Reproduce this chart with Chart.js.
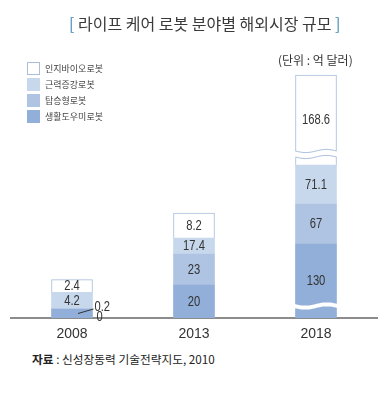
<!DOCTYPE html>
<html><head><meta charset="utf-8">
<script src="https://cdn.jsdelivr.net/npm/chart.js@4.4.1/dist/chart.umd.min.js"></script>
<style>
html,body{margin:0;padding:0;background:#fff;}
#wrap{position:relative;width:387px;height:394px;overflow:hidden;font-family:'Noto Sans CJK KR','Noto Sans',sans-serif;}
#chartBox{position:absolute;left:0;top:0;width:387px;height:340px;}
#title{position:absolute;left:69px;top:11px;font-size:16px;color:#3a3a3a;white-space:nowrap;}
#title .br{color:#3f8bb3;}
#unit{position:absolute;left:278px;top:51px;font-size:12px;color:#333;white-space:nowrap;}
#legend{position:absolute;left:27px;top:62px;font-size:9px;color:#444;}
.li{height:16px;display:flex;align-items:flex-start;white-space:nowrap;}
.sw{width:13px;height:13px;box-sizing:border-box;margin-right:5px;}
.lt{line-height:13px;}
#source{position:absolute;left:32px;top:350px;font-size:11.7px;color:#222;white-space:nowrap;}
</style></head>
<body>
<div id="wrap">
  <div id="chartBox"><canvas id="c" width="387" height="340"></canvas></div>
  <div id="title"><span class="br">[</span> 라이프 케어 로봇 분야별 해외시장 규모 <span class="br">]</span></div>
  <div id="unit">(단위 : 억 달러)</div>
  <div id="legend"></div>
  <div id="source"><b>자료</b> : 신성장동력 기술전략지도, 2010</div>
</div>
<script>
// ---- data (stack order: bottom to top) ----
const categories = ['2008', '2013', '2018'];
const seriesNames = ['생활도우미로봇', '탑승형로봇', '근력증강로봇', '인지바이오로봇'];
// labelled values (억 달러)
const lifeValues = [0.2, 20, 130];
const rideValues = [0, 23, 67];
const muscleValues = [4.2, 17.4, 71.1];
const cognitiveValues = [2.4, 8.2, 168.6];
// the source chart is not drawn to scale (it uses axis breaks);
// these are the segment lengths as they appear in the source picture
const lifeDrawn = [9, 33, 74];
const rideDrawn = [0, 31, 40];
const muscleDrawn = [16.7, 16, 39];
const cognitiveDrawn = [12.7, 25, 90];

const colors = ['#91afd8', '#aec4e2', '#c8d8ec', '#ffffff'];
const borderCol = '#a9bedb';

const valueSets = [lifeValues, rideValues, muscleValues, cognitiveValues];
const drawnSets = [lifeDrawn, rideDrawn, muscleDrawn, cognitiveDrawn];

const datasets = seriesNames.map((name, i) => ({
  label: name,
  data: drawnSets[i],
  valueLabels: valueSets[i].map(v => String(v)),
  backgroundColor: colors[i],
  borderColor: i === 3 ? borderCol : 'rgba(0,0,0,0)',
  borderWidth: i === 3 ? 1 : 0,
  borderSkipped: 'start',
  barThickness: 41
}));

// legend (top to bottom = reverse stack order)
const legendEl = document.getElementById('legend');
for (let i = seriesNames.length - 1; i >= 0; i--) {
  const row = document.createElement('div'); row.className = 'li';
  const sw = document.createElement('div'); sw.className = 'sw';
  sw.style.background = colors[i];
  if (i === 3) sw.style.border = '1px solid ' + borderCol;
  const t = document.createElement('span'); t.className = 'lt'; t.textContent = seriesNames[i];
  row.appendChild(sw); row.appendChild(t); legendEl.appendChild(row);
}

// axis breaks: [datasetIndex, categoryIndex, fromAboveBase, toAboveBase, stroked]
const breaks = [[3, 2, 8, 14, true], [0, 2, 10, 14, false]];

function wave(ctx, x0, x1, y, amp, reverse) {
  const n = 24;
  for (let k = 0; k <= n; k++) {
    const t = reverse ? 1 - k / n : k / n;
    const x = x0 + (x1 - x0) * t;
    const yy = y + amp * Math.sin(t * 2 * Math.PI);
    if (k === 0 && !reverse) ctx.moveTo(x, yy); else ctx.lineTo(x, yy);
  }
}

function narrowText(ctx, txt, x, y, align) {
  ctx.save();
  ctx.translate(x, y);
  ctx.scale(0.8, 1);
  ctx.textAlign = align;
  ctx.fillText(txt, 0, 0);
  ctx.restore();
}

const segPlugin = {
  id: 'segPlugin',
  afterDatasetsDraw(chart) {
    const ctx = chart.ctx;
    const ys = chart.scales.y;
    const zeroY = ys.getPixelForValue(0);
    ctx.save();
    // breaks
    breaks.forEach(([di, ci, a, b, stroked]) => {
      const el = chart.getDatasetMeta(di).data[ci];
      const baseVal = ys.getValueForPixel(el.base);
      const yA = ys.getPixelForValue(baseVal + a);
      const yB = ys.getPixelForValue(baseVal + b);
      const x0 = el.x - el.width / 2 - 1, x1 = el.x + el.width / 2 + 1;
      ctx.beginPath();
      wave(ctx, x0, x1, yB, 1.6, false);
      wave(ctx, x0, x1, yA, 1.6, true);
      ctx.closePath();
      ctx.fillStyle = '#fff';
      ctx.fill();
      if (stroked) {
        ctx.strokeStyle = borderCol; ctx.lineWidth = 1;
        ctx.beginPath(); wave(ctx, x0 + 1, x1 - 1, yB, 1.6, false); ctx.stroke();
        ctx.beginPath(); wave(ctx, x0 + 1, x1 - 1, yA, 1.6, false); ctx.stroke();
      }
    });
    // labels
    ctx.font = '14px "Liberation Sans", Arial';
    ctx.fillStyle = '#333';
    ctx.textBaseline = 'middle';
    chart.data.datasets.forEach((ds, di) => {
      chart.getDatasetMeta(di).data.forEach((el, i) => {
        const txt = ds.valueLabels[i];
        const h = Math.abs(el.base - el.y);
        const cy = (el.y + el.base) / 2;
        const right = el.x + el.width / 2;
        if (h >= 12) {
          narrowText(ctx, txt, el.x, cy + 0.5, 'center');
        } else if (h > 0) {
          ctx.strokeStyle = '#333'; ctx.lineWidth = 1;
          ctx.beginPath(); ctx.moveTo(el.x + 6, cy); ctx.lineTo(right + 1, cy - 4.5); ctx.stroke();
          narrowText(ctx, txt, right + 2, cy - 6, 'left');
        } else {
          narrowText(ctx, txt, right + 7, zeroY - 1, 'center');
        }
      });
    });
    ctx.restore();
  }
};

new Chart(document.getElementById('c'), {
  type: 'bar',
  data: { labels: categories, datasets },
  options: {
    responsive: false,
    animation: false,
    devicePixelRatio: 1,
    layout: { padding: { top: 68, left: 11, right: 10, bottom: 0 } },
    plugins: { legend: { display: false }, tooltip: { enabled: false } },
    scales: {
      x: {
        stacked: true,
        grid: { display: false },
        border: { display: true, color: '#8c8c8c', width: 2 },
        ticks: { color: '#333', font: { family: '"Liberation Sans", Arial', size: 14 }, padding: 0 },
        afterFit(s) { s.height = 22; }
      },
      y: { stacked: true, display: false, min: 0, max: 250 }
    }
  },
  plugins: [segPlugin]
});
</script>
</body></html>
